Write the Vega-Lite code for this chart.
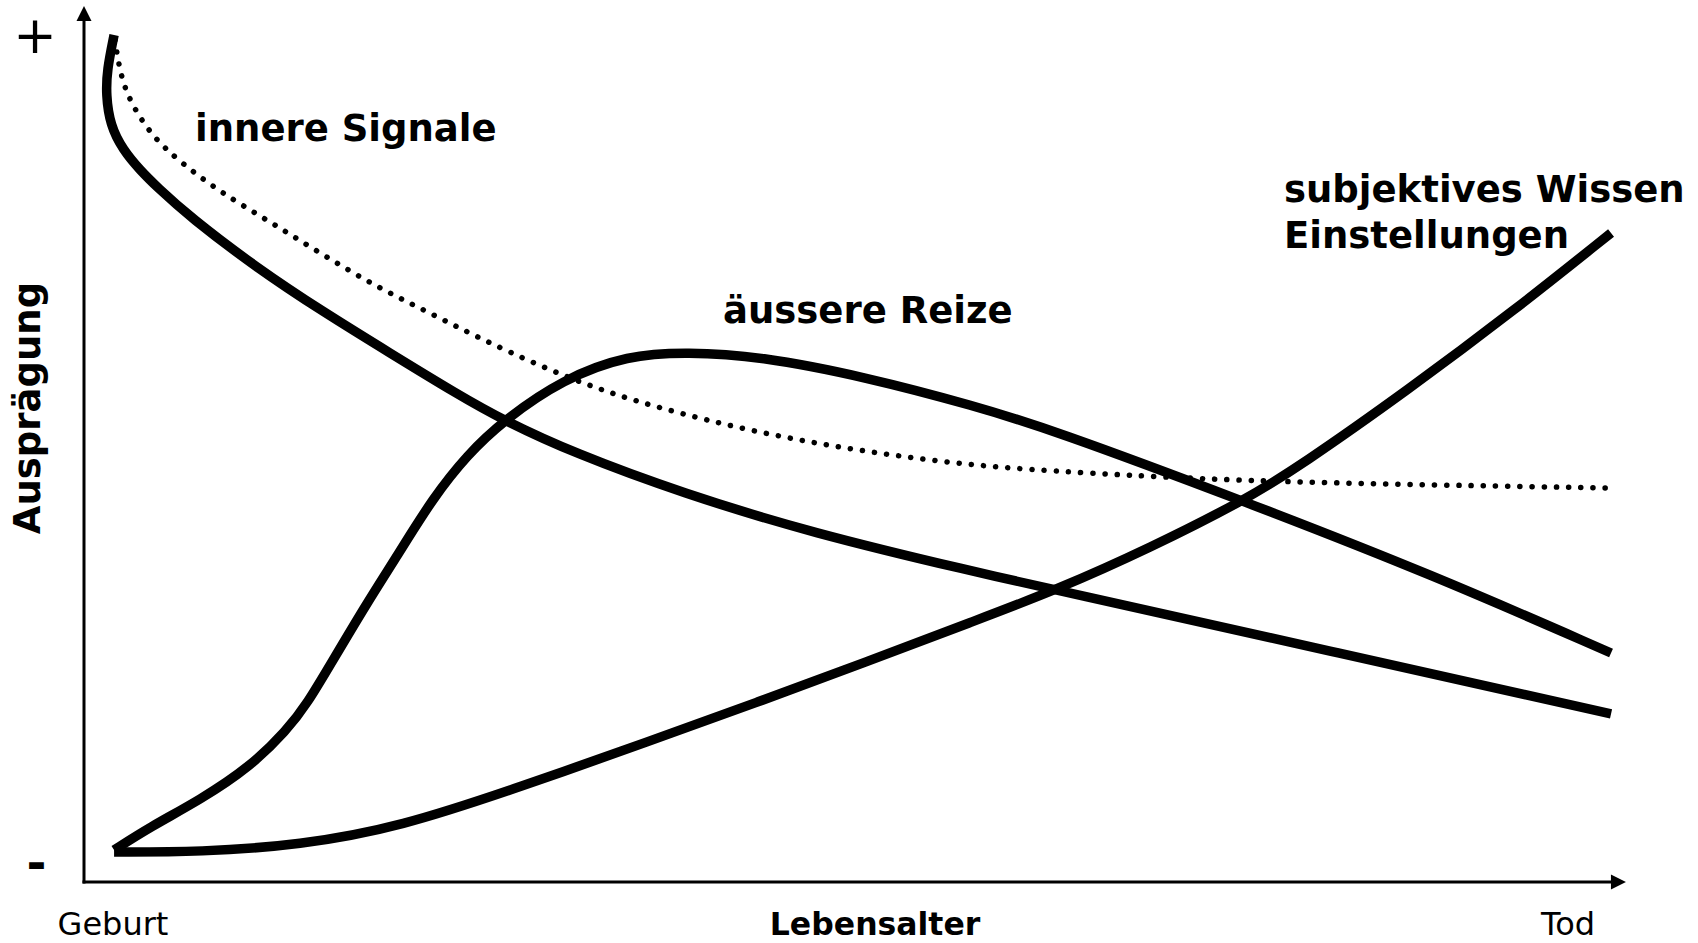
{
  "$schema": "https://vega.github.io/schema/vega-lite/v6.json",
  "width": 1542,
  "height": 876,
  "autosize": {"type": "none"},
  "padding": {"left": 84, "top": 6, "right": 72, "bottom": 61},
  "background": "#ffffff",
  "config": {"view": {"stroke": null}, "font": "DejaVu Sans"},
  "datasets": {
    "curves": [
      {"s": "innere", "i": 0, "x": 1.95, "y": 96.69},
      {"s": "innere", "i": 1, "x": 1.49, "y": 92.69},
      {"s": "innere", "i": 2, "x": 1.43, "y": 89.84},
      {"s": "innere", "i": 3, "x": 1.69, "y": 86.42},
      {"s": "innere", "i": 4, "x": 2.53, "y": 83.56},
      {"s": "innere", "i": 5, "x": 3.63, "y": 81.28},
      {"s": "innere", "i": 6, "x": 4.73, "y": 79.34},
      {"s": "innere", "i": 7, "x": 6.87, "y": 75.91},
      {"s": "innere", "i": 8, "x": 11.22, "y": 70.09},
      {"s": "innere", "i": 9, "x": 15.5, "y": 65.1},
      {"s": "innere", "i": 10, "x": 19.84, "y": 60.39},
      {"s": "innere", "i": 11, "x": 24.19, "y": 55.71},
      {"s": "innere", "i": 12, "x": 27.17, "y": 52.74},
      {"s": "innere", "i": 13, "x": 31.78, "y": 48.97},
      {"s": "innere", "i": 14, "x": 38.78, "y": 44.41},
      {"s": "innere", "i": 15, "x": 47.21, "y": 39.84},
      {"s": "innere", "i": 16, "x": 57.78, "y": 35.39},
      {"s": "innere", "i": 17, "x": 63.04, "y": 33.33},
      {"s": "innere", "i": 18, "x": 80.8, "y": 26.37},
      {"s": "innere", "i": 19, "x": 99.03, "y": 19.18},

      {"s": "aeussere", "i": 0, "x": 1.95, "y": 3.65},
      {"s": "aeussere", "i": 1, "x": 4.28, "y": 6.28},
      {"s": "aeussere", "i": 2, "x": 7.52, "y": 9.36},
      {"s": "aeussere", "i": 3, "x": 10.77, "y": 13.13},
      {"s": "aeussere", "i": 4, "x": 13.16, "y": 17.35},
      {"s": "aeussere", "i": 5, "x": 14.46, "y": 20.32},
      {"s": "aeussere", "i": 6, "x": 16.15, "y": 25.34},
      {"s": "aeussere", "i": 7, "x": 18.35, "y": 31.85},
      {"s": "aeussere", "i": 8, "x": 20.3, "y": 37.21},
      {"s": "aeussere", "i": 9, "x": 22.63, "y": 43.84},
      {"s": "aeussere", "i": 10, "x": 24.84, "y": 48.74},
      {"s": "aeussere", "i": 11, "x": 27.24, "y": 52.74},
      {"s": "aeussere", "i": 12, "x": 31.06, "y": 57.42},
      {"s": "aeussere", "i": 13, "x": 35.28, "y": 60.16},
      {"s": "aeussere", "i": 14, "x": 39.11, "y": 60.5},
      {"s": "aeussere", "i": 15, "x": 43.71, "y": 60.05},
      {"s": "aeussere", "i": 16, "x": 50.71, "y": 57.65},
      {"s": "aeussere", "i": 17, "x": 57.78, "y": 54.34},
      {"s": "aeussere", "i": 18, "x": 62.65, "y": 51.71},
      {"s": "aeussere", "i": 19, "x": 75.03, "y": 43.61},
      {"s": "aeussere", "i": 20, "x": 87.48, "y": 35.05},
      {"s": "aeussere", "i": 21, "x": 99.03, "y": 26.14},

      {"s": "subjektiv", "i": 0, "x": 1.95, "y": 3.42},
      {"s": "subjektiv", "i": 1, "x": 7.52, "y": 3.42},
      {"s": "subjektiv", "i": 2, "x": 14.01, "y": 4.22},
      {"s": "subjektiv", "i": 3, "x": 20.49, "y": 6.28},
      {"s": "subjektiv", "i": 4, "x": 28.27, "y": 10.84},
      {"s": "subjektiv", "i": 5, "x": 36.71, "y": 16.1},
      {"s": "subjektiv", "i": 6, "x": 43.71, "y": 20.55},
      {"s": "subjektiv", "i": 7, "x": 50.71, "y": 25.11},
      {"s": "subjektiv", "i": 8, "x": 57.72, "y": 29.79},
      {"s": "subjektiv", "i": 9, "x": 63.04, "y": 33.33},
      {"s": "subjektiv", "i": 10, "x": 69.13, "y": 38.13},
      {"s": "subjektiv", "i": 11, "x": 75.29, "y": 43.61},
      {"s": "subjektiv", "i": 12, "x": 78.86, "y": 47.49},
      {"s": "subjektiv", "i": 13, "x": 85.86, "y": 56.16},
      {"s": "subjektiv", "i": 14, "x": 92.87, "y": 65.41},
      {"s": "subjektiv", "i": 15, "x": 99.03, "y": 74.09},

      {"s": "dotted", "i": 0, "x": 2.01, "y": 96.12},
      {"s": "dotted", "i": 1, "x": 2.2, "y": 93.84},
      {"s": "dotted", "i": 2, "x": 2.53, "y": 91.21},
      {"s": "dotted", "i": 3, "x": 3.18, "y": 88.47},
      {"s": "dotted", "i": 4, "x": 4.47, "y": 85.05},
      {"s": "dotted", "i": 5, "x": 6.23, "y": 82.19},
      {"s": "dotted", "i": 6, "x": 8.82, "y": 78.77},
      {"s": "dotted", "i": 7, "x": 12.19, "y": 75.23},
      {"s": "dotted", "i": 8, "x": 15.5, "y": 71.58},
      {"s": "dotted", "i": 9, "x": 19.0, "y": 67.92},
      {"s": "dotted", "i": 10, "x": 22.44, "y": 64.95},
      {"s": "dotted", "i": 11, "x": 26.13, "y": 61.64},
      {"s": "dotted", "i": 12, "x": 31.78, "y": 57.19},
      {"s": "dotted", "i": 13, "x": 36.71, "y": 54.34},
      {"s": "dotted", "i": 14, "x": 43.71, "y": 51.26},
      {"s": "dotted", "i": 15, "x": 50.71, "y": 49.09},
      {"s": "dotted", "i": 16, "x": 57.78, "y": 47.49},
      {"s": "dotted", "i": 17, "x": 64.79, "y": 46.69},
      {"s": "dotted", "i": 18, "x": 75.03, "y": 45.78},
      {"s": "dotted", "i": 19, "x": 87.48, "y": 45.32},
      {"s": "dotted", "i": 20, "x": 98.9, "y": 44.98}
    ],
    "axes": [
      {"x": 0, "y": 0, "x2": 0, "y2": 99},
      {"x": 0, "y": 0, "x2": 99, "y2": 0}
    ],
    "arrows": [
      {"dir": "up", "x": 0, "y": 99.14},
      {"dir": "right", "x": 99.51, "y": 0}
    ],
    "curveLabels": [
      {"t": "innere Signale", "x": 7.2, "y": 84.59},
      {"t": "äussere Reize", "x": 41.44, "y": 63.81},
      {"t": "subjektives Wissen", "x": 77.82, "y": 77.63},
      {"t": "Einstellungen", "x": 77.82, "y": 72.37}
    ],
    "xLabels": [
      {"t": "Geburt", "x": 1.88, "y": -6.05},
      {"t": "Tod", "x": 96.24, "y": -6.05}
    ],
    "xTitle": [{"t": "Lebensalter", "x": 51.3, "y": -6.05}],
    "yTitle": [{"t": "Ausprägung", "x": -2.85, "y": 54.11}],
    "plus": [{"t": "+", "x": -3.18, "y": 94.69}],
    "minus": [{"t": "-", "x": -3.08, "y": 0.34}]
  },
  "layer": [
    {
      "data": {"name": "axes"},
      "mark": {"type": "rule", "color": "#000000", "strokeWidth": 3, "strokeCap": "square"},
      "encoding": {
        "x": {"field": "x", "type": "quantitative", "scale": {"domain": [0, 100], "nice": false, "zero": false}, "axis": null},
        "y": {"field": "y", "type": "quantitative", "scale": {"domain": [0, 100], "nice": false, "zero": false}, "axis": null},
        "x2": {"field": "x2"},
        "y2": {"field": "y2"}
      }
    },
    {
      "data": {"name": "arrows"},
      "mark": {"type": "point", "filled": true, "size": 225, "color": "#000000", "opacity": 1, "strokeWidth": 0},
      "encoding": {
        "x": {"field": "x", "type": "quantitative", "scale": {"domain": [0, 100], "nice": false, "zero": false}, "axis": null},
        "y": {"field": "y", "type": "quantitative", "scale": {"domain": [0, 100], "nice": false, "zero": false}, "axis": null},
        "shape": {"field": "dir", "type": "nominal", "scale": {"domain": ["up", "right"], "range": ["M-1,1L0,-1L1,1Z", "M-1,-1L1,0L-1,1Z"]}, "legend": null}
      }
    },
    {
      "data": {"name": "curves"},
      "transform": [{"filter": "datum.s === 'dotted'"}],
      "mark": {"type": "line", "interpolate": "basis", "color": "#000000", "strokeWidth": 5.5, "strokeCap": "round", "strokeDash": [0.1, 12.1]},
      "encoding": {
        "x": {"field": "x", "type": "quantitative", "scale": {"domain": [0, 100], "nice": false, "zero": false}, "axis": null},
        "y": {"field": "y", "type": "quantitative", "scale": {"domain": [0, 100], "nice": false, "zero": false}, "axis": null},
        "order": {"field": "i", "type": "quantitative"}
      }
    },
    {
      "data": {"name": "curves"},
      "transform": [{"filter": "datum.s !== 'dotted'"}],
      "mark": {"type": "line", "interpolate": "basis", "color": "#000000", "strokeWidth": 9.5, "strokeJoin": "round"},
      "encoding": {
        "x": {"field": "x", "type": "quantitative", "scale": {"domain": [0, 100], "nice": false, "zero": false}, "axis": null},
        "y": {"field": "y", "type": "quantitative", "scale": {"domain": [0, 100], "nice": false, "zero": false}, "axis": null},
        "detail": {"field": "s", "type": "nominal"},
        "order": {"field": "i", "type": "quantitative"}
      }
    },
    {
      "data": {"name": "curveLabels"},
      "mark": {"type": "text", "font": "DejaVu Sans", "fontWeight": "bold", "fontSize": 37, "align": "left", "baseline": "alphabetic", "color": "#000000"},
      "encoding": {
        "x": {"field": "x", "type": "quantitative", "scale": {"domain": [0, 100], "nice": false, "zero": false}, "axis": null},
        "y": {"field": "y", "type": "quantitative", "scale": {"domain": [0, 100], "nice": false, "zero": false}, "axis": null},
        "text": {"field": "t"}
      }
    },
    {
      "data": {"name": "xLabels"},
      "mark": {"type": "text", "font": "DejaVu Sans", "fontSize": 32, "align": "center", "baseline": "alphabetic", "color": "#000000"},
      "encoding": {
        "x": {"field": "x", "type": "quantitative", "scale": {"domain": [0, 100], "nice": false, "zero": false}, "axis": null},
        "y": {"field": "y", "type": "quantitative", "scale": {"domain": [0, 100], "nice": false, "zero": false}, "axis": null},
        "text": {"field": "t"}
      }
    },
    {
      "data": {"name": "xTitle"},
      "mark": {"type": "text", "font": "DejaVu Sans", "fontWeight": "bold", "fontSize": 31.5, "align": "center", "baseline": "alphabetic", "color": "#000000"},
      "encoding": {
        "x": {"field": "x", "type": "quantitative", "scale": {"domain": [0, 100], "nice": false, "zero": false}, "axis": null},
        "y": {"field": "y", "type": "quantitative", "scale": {"domain": [0, 100], "nice": false, "zero": false}, "axis": null},
        "text": {"field": "t"}
      }
    },
    {
      "data": {"name": "yTitle"},
      "mark": {"type": "text", "font": "DejaVu Sans", "fontWeight": "bold", "fontSize": 37, "align": "center", "baseline": "alphabetic", "angle": 270, "color": "#000000"},
      "encoding": {
        "x": {"field": "x", "type": "quantitative", "scale": {"domain": [0, 100], "nice": false, "zero": false}, "axis": null},
        "y": {"field": "y", "type": "quantitative", "scale": {"domain": [0, 100], "nice": false, "zero": false}, "axis": null},
        "text": {"field": "t"}
      }
    },
    {
      "data": {"name": "plus"},
      "mark": {"type": "text", "font": "DejaVu Sans", "fontSize": 52, "align": "center", "baseline": "alphabetic", "color": "#000000"},
      "encoding": {
        "x": {"field": "x", "type": "quantitative", "scale": {"domain": [0, 100], "nice": false, "zero": false}, "axis": null},
        "y": {"field": "y", "type": "quantitative", "scale": {"domain": [0, 100], "nice": false, "zero": false}, "axis": null},
        "text": {"field": "t"}
      }
    },
    {
      "data": {"name": "minus"},
      "mark": {"type": "text", "font": "DejaVu Sans", "fontWeight": "bold", "fontSize": 48, "align": "center", "baseline": "alphabetic", "color": "#000000"},
      "encoding": {
        "x": {"field": "x", "type": "quantitative", "scale": {"domain": [0, 100], "nice": false, "zero": false}, "axis": null},
        "y": {"field": "y", "type": "quantitative", "scale": {"domain": [0, 100], "nice": false, "zero": false}, "axis": null},
        "text": {"field": "t"}
      }
    }
  ]
}
